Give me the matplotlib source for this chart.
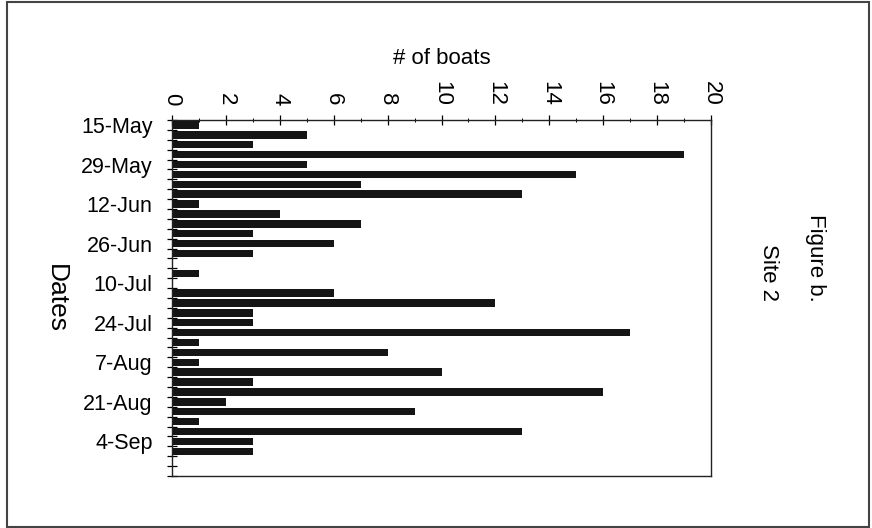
import matplotlib
matplotlib.use("Agg")
import matplotlib.pyplot as plt
import numpy as np
from matplotlib.patches import Rectangle

# data: one value per sampling day (categorical axis), labelled every 4th category
boats = [1, 5, 3, 19, 5, 15, 7, 13, 1, 4, 7, 3, 6, 3, 0, 1, 0, 6, 12, 3,
         3, 17, 1, 8, 1, 10, 3, 16, 2, 9, 1, 13, 3, 3, 0, 0]
date_labels = ["15-May", "29-May", "12-Jun", "26-Jun", "10-Jul",
               "24-Jul", "7-Aug", "21-Aug", "4-Sep"]
label_every = 4
x_ticks = [0, 2, 4, 6, 8, 10, 12, 14, 16, 18, 20]

plt.rcParams['font.family'] = ['Liberation Sans', 'DejaVu Sans']

fig = plt.figure(figsize=(8.72, 5.28), dpi=100)
ax = fig.add_axes([172/872, 1-476/528, (711-172)/872, (476-120)/528])

n = len(boats)
pos = np.arange(n)
ax.barh(pos, boats, height=0.75, color='#151515', edgecolor='none')

ax.set_ylim(n - 0.5, -0.5)
ax.set_xlim(0, 20)

# x axis on top
ax.xaxis.tick_top()
ax.xaxis.set_label_position('top')
ax.set_xticks(x_ticks)
ax.set_xticklabels([str(v) for v in x_ticks], rotation=-90, fontsize=16)
ax.set_xticks(np.arange(1, 20, 2), minor=True)
ax.tick_params(axis='x', which='major', direction='inout', length=7, width=0.9, pad=7)
ax.tick_params(axis='x', which='minor', direction='inout', length=3, width=0.7)
ax.set_xlabel('# of boats', fontsize=16, labelpad=12)

# y axis: labels at every 4th category, ticks at category boundaries
ax.set_yticks(pos[::label_every])
ax.set_yticklabels(date_labels, fontsize=15.5)
ax.set_yticks(np.arange(-0.5, n, 1), minor=True)
ax.tick_params(axis='y', which='major', length=0, pad=14)
ax.tick_params(axis='y', which='minor', direction='inout', length=7, width=0.9)
ax.set_ylabel('Dates', fontsize=19, rotation=-90, labelpad=27, va='bottom')

for s in ax.spines.values():
    s.set_linewidth(1.0)
    s.set_color('#222222')

fig.text(815/872, 1-258/528, 'Figure b.', rotation=-90, fontsize=16,
         ha='center', va='center')
fig.text(768/872, 1-272/528, 'Site 2', rotation=-90, fontsize=16,
         ha='center', va='center')

# outer frame
fig.patches.append(Rectangle((7/872, 1/528), 862/872, 525/528, transform=fig.transFigure,
                             fill=False, edgecolor='#444444', linewidth=1.5))

fig.savefig('out.png', dpi=100)
